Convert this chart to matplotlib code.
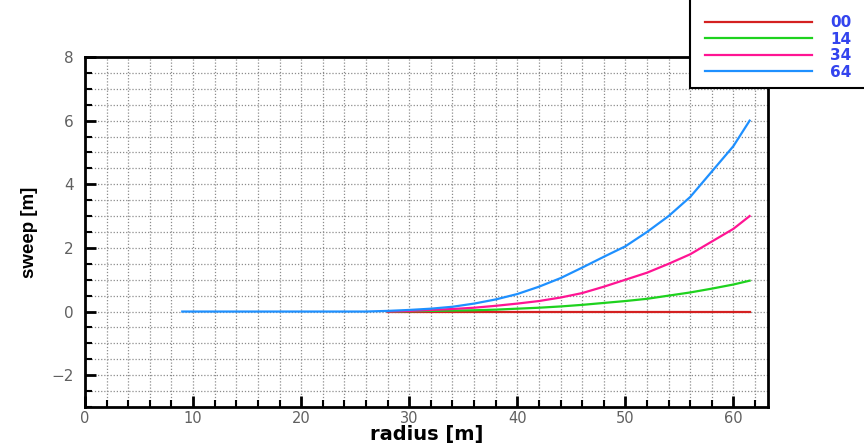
import matplotlib
matplotlib.use("Agg")
import matplotlib.pyplot as plt
from matplotlib.ticker import MultipleLocator
from matplotlib.patches import Rectangle

plt.rcParams['font.family'] = ['DejaVu Sans']

# ---- data ----
r_pts = [28, 30, 32, 34, 36, 38, 40, 42, 44, 46, 48, 50, 52, 54, 56, 58, 60, 61.5]
sweep_00 = [0.0] * 18
sweep_14 = [0.0, 0.01, 0.02, 0.03, 0.04, 0.06, 0.09, 0.12, 0.16, 0.21, 0.27, 0.33, 0.40, 0.50, 0.60, 0.72, 0.85, 0.97]
sweep_34 = [0.0, 0.02, 0.05, 0.08, 0.12, 0.18, 0.25, 0.33, 0.44, 0.58, 0.78, 1.00, 1.22, 1.50, 1.80, 2.20, 2.60, 3.00]
sweep_64_r = [9, 26] + r_pts
sweep_64 = [0.0, 0.0, 0.02, 0.05, 0.09, 0.15, 0.25, 0.38, 0.55, 0.78, 1.05, 1.38, 1.72, 2.05, 2.50, 3.00, 3.60, 4.40, 5.20, 6.00]
labels = ["00", "14", "34", "64"]
colors = ["#d42020", "#1ed21e", "#ff1493", "#1e90ff"]

fig = plt.figure(figsize=(8.64, 4.47), dpi=100)
ax = fig.add_axes([85/864, 40/447, (768-85)/864, (407-57)/447])

ax.plot(r_pts, sweep_00, color=colors[0], lw=1.6, label=labels[0])
ax.plot(r_pts, sweep_14, color=colors[1], lw=1.6, label=labels[1])
ax.plot(r_pts, sweep_34, color=colors[2], lw=1.6, label=labels[2])
ax.plot(sweep_64_r, sweep_64, color=colors[3], lw=1.6, label=labels[3])

ax.set_xlim(0, 63.2)
ax.set_ylim(-3, 8)
ax.xaxis.set_major_locator(MultipleLocator(10))
ax.xaxis.set_minor_locator(MultipleLocator(2))
ax.yaxis.set_major_locator(MultipleLocator(2))
ax.yaxis.set_minor_locator(MultipleLocator(0.5))
ax.grid(which='both', color='#8c8c8c', linestyle=(0, (1, 1.5)), linewidth=0.9)
ax.set_axisbelow(True)
ax.tick_params(which='major', direction='in', length=8, width=2, labelsize=11,
               labelcolor='#606060')
ax.tick_params(axis='x', which='major', pad=3, labelsize=10.5)
ax.tick_params(axis='y', which='major', pad=8)
ax.tick_params(which='minor', direction='in', length=5, width=1.5)
for s in ax.spines.values():
    s.set_linewidth(2)
    s.set_color('black')

ax.set_xlabel("radius [m]", fontsize=14, fontweight='bold', labelpad=-1)
ax.set_ylabel("sweep [m]", fontsize=13.5, fontweight='bold', labelpad=10,
              family='Liberation Sans')

# legend box (extends past the figure edge as in the reference)
fig.patches.append(Rectangle((690/864, 1 - 88/447), 0.3, 0.3,
                             transform=fig.transFigure, facecolor='white',
                             edgecolor='black', linewidth=1.5, zorder=4))
leg = fig.legend(loc='center left', bbox_to_anchor=(705/864, 1 - 47.5/447),
                 handlelength=7.0, handletextpad=1.2, labelspacing=0.1,
                 borderpad=0, borderaxespad=0, frameon=False,
                 prop={'weight': 'bold', 'size': 11}, labelcolor='#3344ee')
leg.set_zorder(5)
for h in leg.legend_handles:
    h.set_linewidth(1.6)

fig.savefig("out.png", dpi=100)
